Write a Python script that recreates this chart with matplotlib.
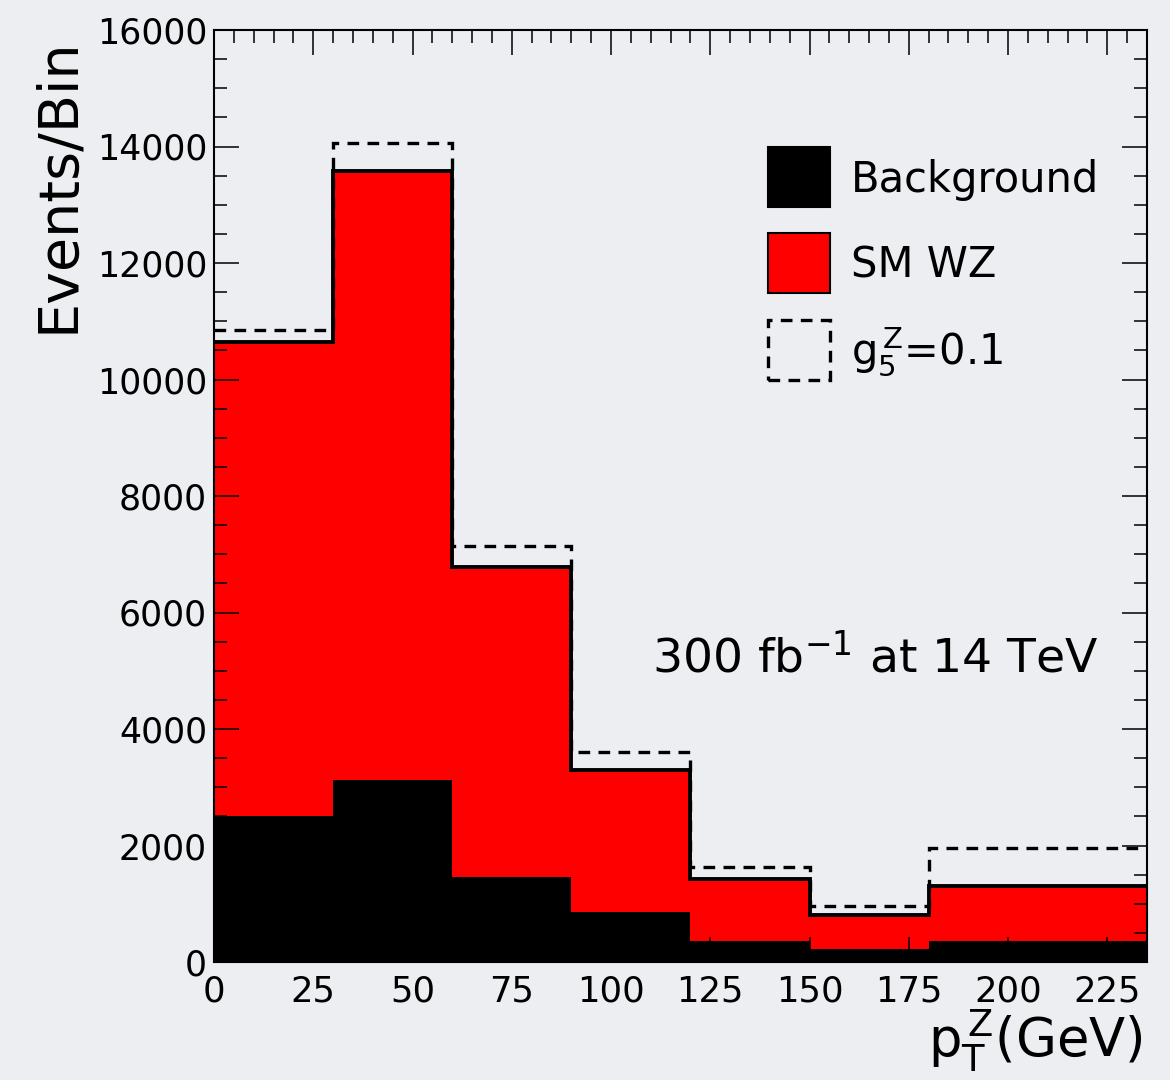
import matplotlib
matplotlib.use("Agg")
import matplotlib.pyplot as plt
import numpy as np
from matplotlib.ticker import MultipleLocator
from matplotlib.patches import Rectangle

# ---- data ----
bin_edges = [0, 30, 60, 90, 120, 150, 180, 235]
background = [2500, 3120, 1460, 850, 360, 220, 360]
sm_wz = [8150, 10460, 5320, 2450, 1070, 580, 940]
g5z_total = [10850, 14060, 7140, 3600, 1630, 965, 1950]
legend_labels = ["Background", "SM WZ", r"$\mathregular{g_5^{\,Z}}$=0.1"]
xticks = [0, 25, 50, 75, 100, 125, 150, 175, 200, 225]

BG = "#eceef1"
plt.rcParams["font.family"] = ["DejaVu Sans"]
plt.rcParams["mathtext.fontset"] = "dejavusans"

W, H = 1170, 1080
fig = plt.figure(figsize=(W / 100, H / 100), dpi=100, facecolor=BG)
ax = fig.add_axes([214 / W, 1 - 962 / H, (1147 - 214) / W, (962 - 30) / H])
ax.set_facecolor(BG)

bkg = np.array(background, dtype=float)
stack_top = bkg + np.array(sm_wz, dtype=float)

ax.stairs(stack_top, bin_edges, fill=True, color="#ff0000", lw=0)
ax.stairs(bkg, bin_edges, fill=True, color="black", lw=0)
ax.stairs(stack_top, bin_edges, baseline=None, color="black", lw=2.8)
ax.stairs(g5z_total, bin_edges, baseline=None, color="black", lw=2.4,
          linestyle=(0, (3.5, 2.5)))

ax.set_xlim(0, 235)
ax.set_ylim(0, 16000)
ax.set_xticks(xticks)
ax.xaxis.set_minor_locator(MultipleLocator(5))
ax.yaxis.set_major_locator(MultipleLocator(2000))
ax.yaxis.set_minor_locator(MultipleLocator(500))
ax.tick_params(which="both", direction="in", top=True, right=True, width=1.1,
               color="black")
ax.tick_params(which="major", length=18)
ax.tick_params(which="minor", length=9.5)
ax.tick_params(axis="x", which="major", labelsize=25.5, pad=9)
ax.tick_params(axis="y", which="major", labelsize=25, pad=5)
for s in ax.spines.values():
    s.set_linewidth(1.5)

# axis labels
fig.text(73 / W, 1 - 185 / H, "Events/Bin", rotation=90, rotation_mode="anchor",
         ha="center", va="baseline", fontsize=40)
fig.text(1143 / W, 1 - 1058 / H, r"$\mathregular{p_T^{\,Z}}$(GeV)",
         ha="right", va="baseline", fontsize=38)

# legend (manual)
ax_w = 1147 - 214
ax_h = 962 - 30
box_tops = [147, 233, 320]
styles = [dict(facecolor="black", edgecolor="black", lw=1.5),
          dict(facecolor="#ff0000", edgecolor="black", lw=1.5),
          dict(facecolor="none", edgecolor="black", lw=2.4, linestyle=(0, (3.5, 2.5)))]
for top, lab, st in zip(box_tops, legend_labels, styles):
    x0 = (768 - 214) / ax_w
    y0 = (962 - (top + 60)) / ax_h
    ax.add_patch(Rectangle((x0, y0), 62 / ax_w, 60 / ax_h, transform=ax.transAxes,
                           clip_on=False, **st))
    ax.text((851 - 214) / ax_w, (962 - (top + 45)) / ax_h, lab,
            transform=ax.transAxes, ha="left", va="baseline", fontsize=30)

ax.text((652 - 214) / ax_w, (962 - 672) / ax_h, r"300 fb$^{\mathregular{-1}}$ at 14 TeV",
        transform=ax.transAxes, ha="left", va="baseline", fontsize=34)

fig.savefig("out.png", dpi=100, facecolor=BG)
